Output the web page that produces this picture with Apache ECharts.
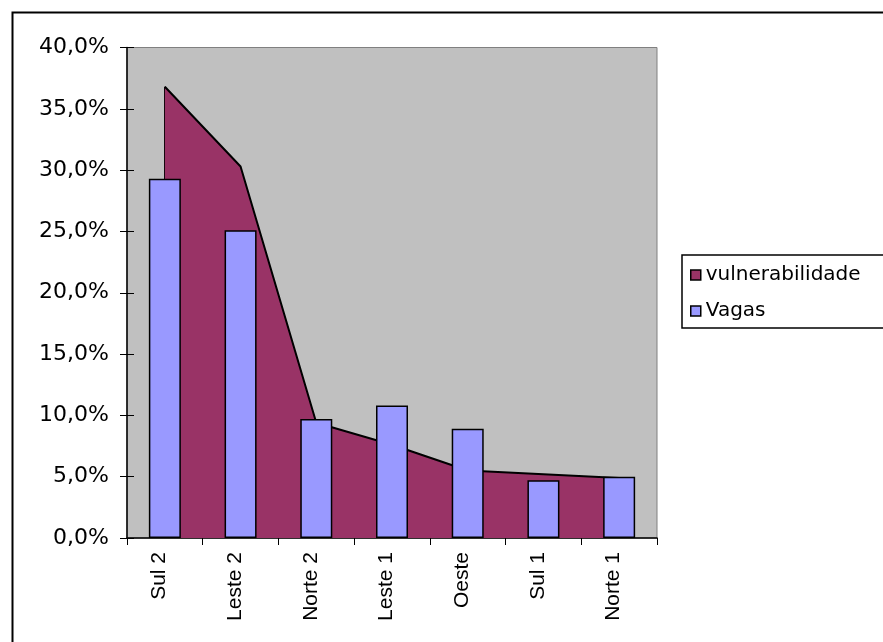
<!DOCTYPE html>
<html>
<head>
<meta charset="utf-8">
<script src="https://cdn.jsdelivr.net/npm/echarts@6/dist/echarts.min.js"></script>
<style>html,body{margin:0;padding:0;background:#fff;}#c{width:883px;height:642px;}</style>
</head>
<body>
<div id="c"></div>
<script>
const categories = ['Sul 2','Leste 2','Norte 2','Leste 1','Oeste','Sul 1','Norte 1'];
const vulnerabilidade = [36.8, 30.3, 9.4, 7.6, 5.5, 5.2, 4.9];
const vagas = [29.3, 25.1, 9.7, 10.8, 8.9, 4.7, 5.0];
const seriesNames = ['vulnerabilidade', 'Vagas'];
const yMin = 0, yMax = 40, yStep = 5;

const FONT = 'DejaVu Sans';
const chart = echarts.init(document.getElementById('c'));
const last = categories.length - 1;
chart.setOption({
  animation: false,
  backgroundColor: '#fff',
  graphic: [{
    type: 'rect', left: 10, top: 10, z: 100,
    shape: { x: 0, y: 0, width: 1000, height: 1000 },
    style: { fill: 'none', stroke: '#000', lineWidth: 2 }
  }],
  grid: {
    left: 127, right: 226, top: 47.5, bottom: 104,
    show: true, backgroundColor: '#C0C0C0', borderColor: '#808080', borderWidth: 1
  },
  legend: {
    orient: 'vertical', left: 682, top: 255,
    padding: [10, 80, 7, 8], itemGap: 16,
    itemWidth: 10, itemHeight: 10,
    borderColor: '#000', borderWidth: 1.5, backgroundColor: '#fff',
    textStyle: { fontFamily: FONT, fontSize: 20, color: '#000' },
    data: [
      { name: seriesNames[0], icon: 'rect', itemStyle: { color: '#993366', borderColor: '#000', borderWidth: 1.5 } },
      { name: seriesNames[1], icon: 'rect', itemStyle: { color: '#9999FF', borderColor: '#000', borderWidth: 1.5 } }
    ]
  },
  xAxis: {
    type: 'category', data: categories, boundaryGap: true,
    axisLine: { lineStyle: { color: '#000', width: 1.5 } },
    axisTick: { show: true, length: 7, lineStyle: { color: '#000' } },
    axisLabel: { rotate: 90, margin: 14, fontFamily: 'Liberation Sans', fontSize: 21, color: '#000',
      verticalAlign: 'bottom', lineHeight: 11 }
  },
  yAxis: [{
    type: 'value', min: yMin, max: yMax, interval: yStep,
    axisLine: { show: true, lineStyle: { color: '#000', width: 1.5 } },
    axisTick: { show: true, length: 7, lineStyle: { color: '#000' } },
    splitLine: { show: false },
    axisLabel: { margin: 18, fontFamily: FONT, fontSize: 22, color: '#000',
      formatter: v => v.toFixed(1).replace('.', ',') + '%' }
  }, {
    type: 'value', min: yMin, max: yMax, interval: yStep, position: 'left',
    axisLine: { show: false },
    axisTick: { show: true, inside: true, length: 7, lineStyle: { color: '#000' } },
    splitLine: { show: false }, axisLabel: { show: false }
  }],
  series: [{
    name: seriesNames[0], type: 'line', data: vulnerabilidade,
    symbol: 'none', z: 2,
    lineStyle: { color: '#000', width: 2 },
    itemStyle: { color: '#993366' },
    areaStyle: { color: '#993366', opacity: 1 },
    markLine: {
      z: 2, silent: true, symbol: 'none', label: { show: false },
      lineStyle: { color: '#000', width: 2, type: 'solid' },
      data: [
        [{ coord: [0, 0] }, { coord: [0, vulnerabilidade[0]] }],
        [{ coord: [last, 0] }, { coord: [last, vulnerabilidade[last]] }]
      ]
    }
  }, {
    name: seriesNames[1], type: 'bar', data: vagas, barWidth: 32, z: 3,
    itemStyle: { color: '#9999FF', borderColor: '#000', borderWidth: 1.5 }
  }]
});
</script>
</body>
</html>
